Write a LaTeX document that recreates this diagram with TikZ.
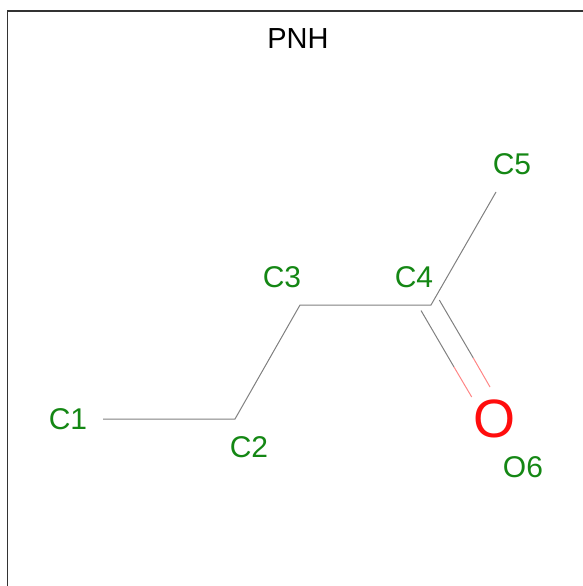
\documentclass[tikz,border=0pt]{standalone}
\usepackage{fontspec}
\setmainfont{Liberation Sans}
\definecolor{atomgreen}{RGB}{20,135,20}
\definecolor{bondgray}{RGB}{128,128,128}
\definecolor{oxyred}{RGB}{255,13,13}
\begin{document}
\begin{tikzpicture}[x=1pt,y=-1pt,atom/.style ={text=atomgreen ,font=\fontsize{30}{34}\selectfont ,inner sep=0pt},bond/.style ={draw=bondgray ,line width=1pt},oxybond/.style ={draw=oxyred!50 ,line width=1pt}]
\useasboundingbox (0,0) rectangle (583,586);
\draw[line width=1.2pt,draw=black!80] (7.5,586) -- (7.5,11) -- (583,11);
\node[inner sep=0pt,font=\fontsize{29}{33}\selectfont] (title) at (298,39) {PNH};
\node[atom] (C1) at (68,419.5) {C1};
\node[atom] (C2) at (249,447.5) {C2};
\node[atom] (C3) at (282,277.5) {C3};
\node[atom] (C4) at (414,277.5) {C4};
\node[atom] (C5) at (512,164) {C5};
\node[atom] (O6) at (523,467.5) {O6};
\node[inner sep=0pt,text=oxyred,font=\fontsize{54}{60}\selectfont] (O) at (494,419) {O};
\coordinate (a1) at (103,419);
\coordinate (a2) at (235,419);
\coordinate (a3) at (300,305);
\coordinate (a4) at (431,305);
\coordinate (a5) at (496,192);
\coordinate (d1) at (421,310.5);
\coordinate (m1) at (454,367);
\coordinate (e1) at (471.7,397);
\coordinate (d2) at (439.3,300);
\coordinate (m2) at (473.3,358);
\coordinate (e2) at (490,387);
\draw[bond] (a1) -- (a2) -- (a3) -- (a4) -- (a5);
\draw[bond] (d1) -- (m1);
\draw[oxybond] (m1) -- (e1);
\draw[bond] (d2) -- (m2);
\draw[oxybond] (m2) -- (e2);
\end{tikzpicture}
\end{document}
